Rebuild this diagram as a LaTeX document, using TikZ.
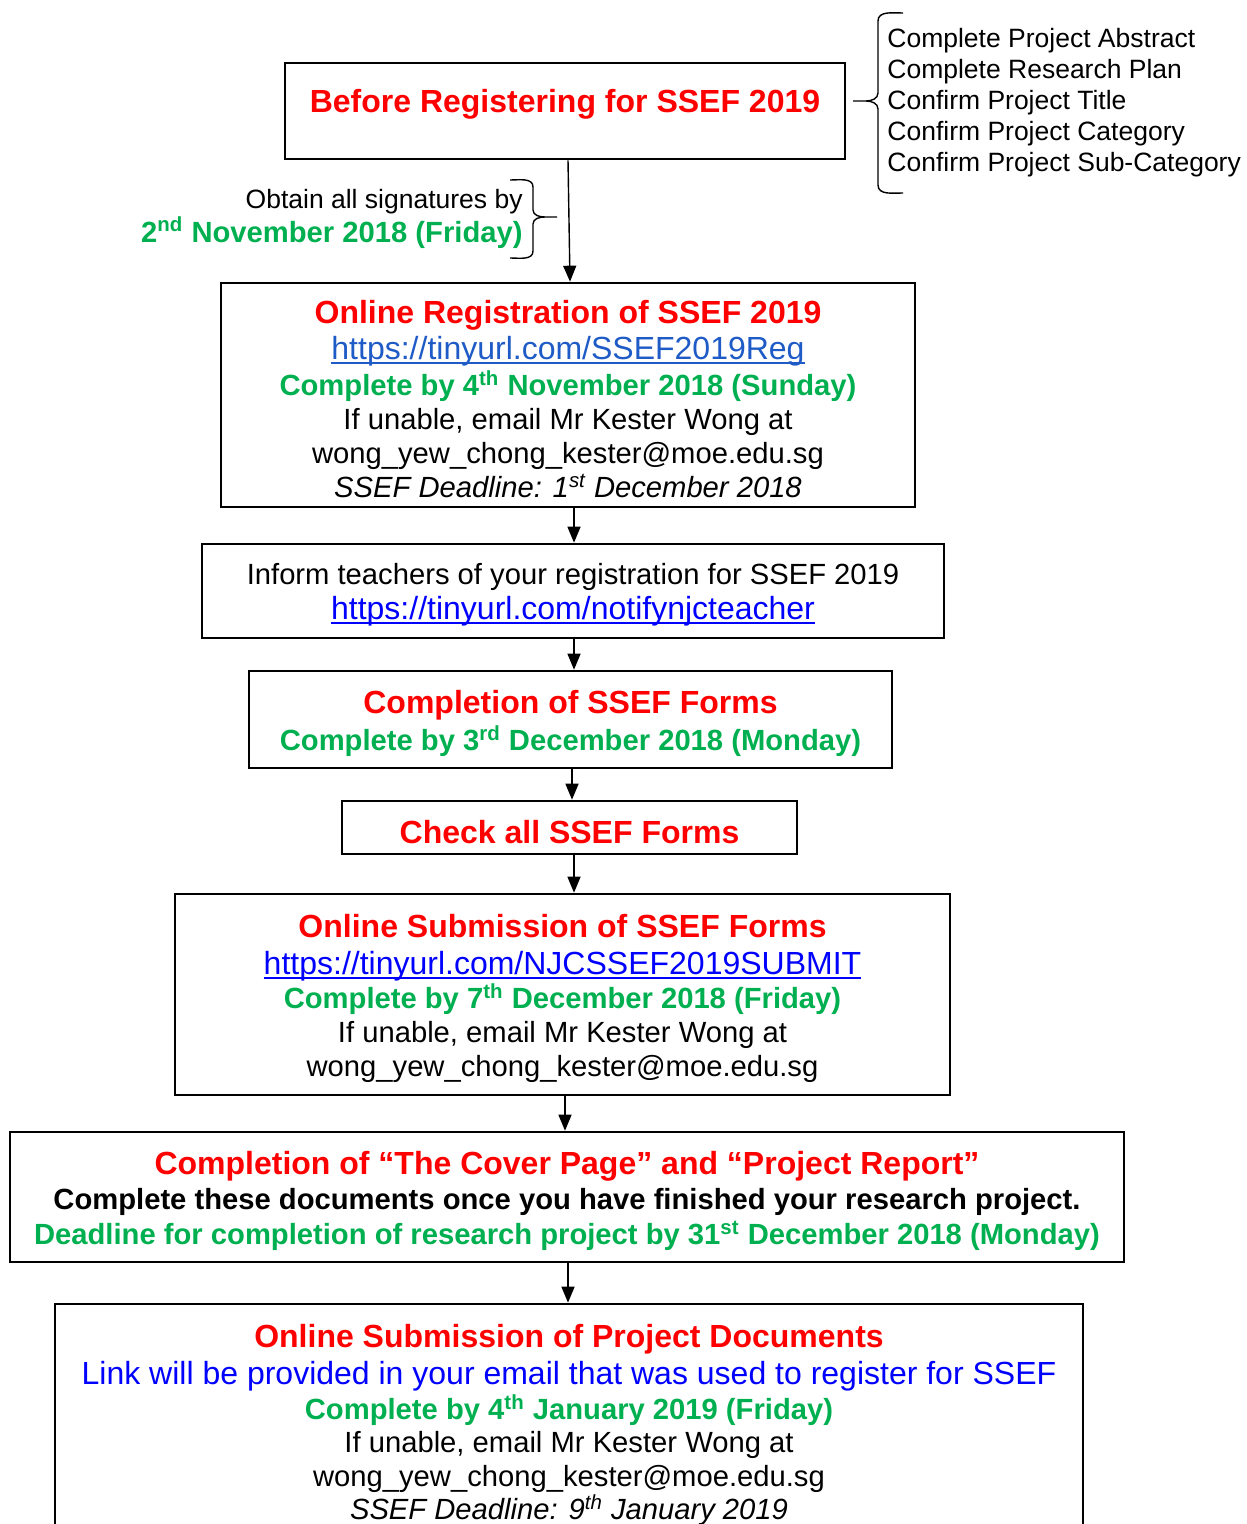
\documentclass[tikz,border=0pt]{standalone}
\usepackage{fontspec}
\setmainfont{Liberation Sans}
\usetikzlibrary{arrows.meta}

\definecolor{sred}{HTML}{FF0000}
\definecolor{sgreen}{HTML}{00B050}
\definecolor{sblue}{HTML}{0000FF}
\definecolor{slink}{HTML}{1F5BC6}

\newcommand\tp[1][14.5pt]{\rule{0pt}{#1}}
\newcommand\hd[1]{{\fontsize{16pt}{17pt}\selectfont\bfseries\color{sred}\tp[15.7pt]#1}}
\newcommand\due[1]{{\bfseries\color{sgreen}#1}}
\newcommand\lnk[2][sblue]{{\fontsize{16pt}{17pt}\selectfont\color{#1}%
    \setbox0\hbox{#2}\rlap{\rule[-2.2pt]{\wd0}{0.9pt}}\box0}}
\def\pw{0.5pt}

\tikzset{
  box/.style={draw, line width=1.3pt, align=center, inner sep=0pt,
    font=\fontsize{14.6pt}{17pt}\selectfont},
  arr/.style={-{Triangle[length=8pt,width=6.5pt]}, line width=0.7pt},
  side/.style={inner sep=0pt, font=\fontsize{13.25pt}{15.5pt}\selectfont},
  brc/.style={line width=0.7pt}
}

\begin{document}
\begin{tikzpicture}[x=0.5pt,y=-0.5pt]
    \useasboundingbox (0,0) rectangle (1246,1524);

    % boxes
    \node[box, minimum width=560*\pw, minimum height=96*\pw, text depth=14pt] (before) at (565,111)
        {\hd{Before Registering for SSEF 2019}};
    \node[box, minimum width=694*\pw, minimum height=224*\pw] (reg) at (568,395)
        {\hd{Online Registration of SSEF 2019}\\[1pt]
         \lnk[slink]{https://tinyurl.com/SSEF2019Reg}\\[1pt]
         \due{Complete by 4\textsuperscript{th} November 2018 (Sunday)}\\
         If unable, email Mr Kester Wong at\\
         wong\_yew\_chong\_kester@moe.edu.sg\\
         {\itshape SSEF Deadline: 1\textsuperscript{st} December 2018}};
    \node[box, minimum width=742*\pw, minimum height=94*\pw] (inform) at (573,591)
        {\tp Inform teachers of your registration for SSEF 2019\\[0.5pt]
         \lnk{https://tinyurl.com/notifynjcteacher}};
    \node[box, minimum width=643*\pw, minimum height=97*\pw] (forms) at (570.5,719.5)
        {\hd{Completion of SSEF Forms}\\[1.5pt]
         \due{Complete by 3\textsuperscript{rd} December 2018 (Monday)}};
    \node[box, minimum width=455*\pw, minimum height=53*\pw] (check) at (569.5,827.5)
        {\hd{Check all SSEF Forms}};
    \node[box, minimum width=775*\pw, minimum height=201*\pw] (submit) at (562.5,994.5)
        {\hd{Online Submission of SSEF Forms}\\[1.5pt]
         \lnk{https://tinyurl.com/NJCSSEF2019SUBMIT}\\
         \due{Complete by 7\textsuperscript{th} December 2018 (Friday)}\\
         If unable, email Mr Kester Wong at\\
         wong\_yew\_chong\_kester@moe.edu.sg};
    \node[box, minimum width=1114*\pw, minimum height=130*\pw] (report) at (567,1197)
        {\hd{Completion of “The Cover Page” and “Project Report”}\\[0.5pt]
         {\bfseries Complete these documents once you have finished your research project.}\\[0.5pt]
         \due{Deadline for completion of research project by 31\textsuperscript{st} December 2018 (Monday)}};
    \node[box, minimum width=1028*\pw, minimum height=234*\pw] (docs) at (569,1421)
        {\hd{Online Submission of Project Documents}\\[1.5pt]
         {\fontsize{16pt}{17pt}\selectfont\color{sblue}Link will be provided in your email that was used to register for SSEF}\\[0.5pt]
         \due{Complete by 4\textsuperscript{th} January 2019 (Friday)}\\[-0.5pt]
         If unable, email Mr Kester Wong at\\
         wong\_yew\_chong\_kester@moe.edu.sg\\[-0.5pt]
         {\itshape SSEF Deadline: 9\textsuperscript{th} January 2019}};

    % side notes
    \node[side, anchor=west, align=left] (todo) at (887,102.5)
        {Complete Project Abstract\\Complete Research Plan\\Confirm Project Title\\
         Confirm Project Category\\Confirm Project Sub-Category};
    \node[side, anchor=east, align=right] (sign) at (523,218.5)
        {Obtain all signatures by\\[1.5pt]
         \due{\fontsize{14.6pt}{17pt}\selectfont 2\textsuperscript{nd} November 2018 (Friday)}};

    % braces
    \draw[brc] (903,13) to[out=180,in=90] (878,21) -- (878,93) to[out=-90,in=0] (866,101) -- (853,101)
        (866,101) to[out=0,in=90] (878,109) -- (878,185) to[out=-90,in=180] (903,193);
    \draw[brc] (510,180) to[out=0,in=90] (533,187) -- (533,210) to[out=-90,in=180] (545,217) -- (557,217)
        (545,217) to[out=180,in=90] (533,224) -- (533,251) to[out=-90,in=0] (510,258);

    % arrows
    \draw[arr] (before.south -| 568,0) -- (reg.north -| 570,0);
    \draw[arr] (reg.south -| 574,0) -- (inform.north -| 574,0);
    \draw[arr] (inform.south -| 574,0) -- (forms.north -| 574,0);
    \draw[arr] (forms.south -| 572,0) -- (check.north -| 572,0);
    \draw[arr] (check.south -| 574,0) -- (submit.north -| 574,0);
    \draw[arr] (submit.south -| 565,0) -- (report.north -| 565,0);
    \draw[arr] (report.south -| 568,0) -- (docs.north -| 568,0);
\end{tikzpicture}
\end{document}
